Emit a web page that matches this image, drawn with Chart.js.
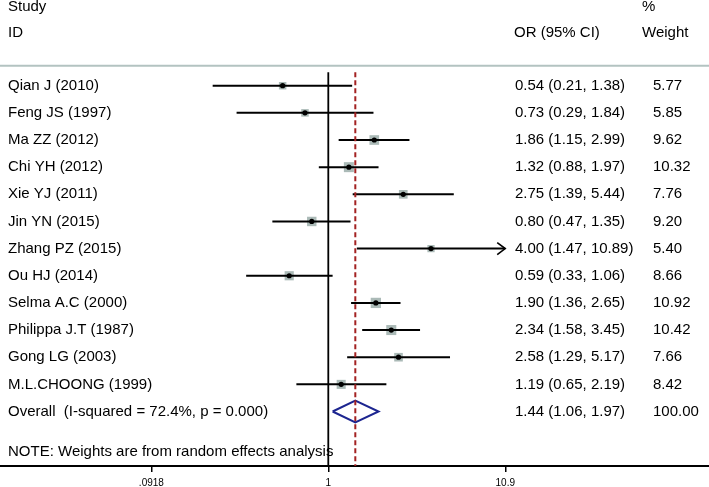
<!DOCTYPE html>
<html>
<head>
<meta charset="utf-8">
<script src="https://cdn.jsdelivr.net/npm/chart.js@4.4.0/dist/chart.umd.min.js"></script>
<style>
  html, body { margin: 0; padding: 0; background: #fff; }
  #wrap { width: 709px; height: 487px; }
</style>
</head>
<body>
<div id="wrap"><canvas id="forest" width="709" height="487"></canvas></div>
<script>
// study rows, top to bottom
const studies = ['Qian J (2010)', 'Feng JS (1997)', 'Ma ZZ (2012)', 'Chi YH (2012)', 'Xie YJ (2011)',
  'Jin YN (2015)', 'Zhang PZ (2015)', 'Ou HJ (2014)', 'Selma A.C (2000)', 'Philippa J.T (1987)',
  'Gong LG (2003)', 'M.L.CHOONG (1999)'];
const orValues = [0.54, 0.73, 1.86, 1.32, 2.75, 0.80, 4.00, 0.59, 1.90, 2.34, 2.58, 1.19];
const ciLower  = [0.21, 0.29, 1.15, 0.88, 1.39, 0.47, 1.47, 0.33, 1.36, 1.58, 1.29, 0.65];
const ciUpper  = [1.38, 1.84, 2.99, 1.97, 5.44, 1.35, 10.89, 1.06, 2.65, 3.45, 5.17, 2.19];
const weights  = [5.77, 5.85, 9.62, 10.32, 7.76, 9.20, 5.40, 8.66, 10.92, 10.42, 7.66, 8.42];

// pooled estimate: OR, lower, upper, weight
const overallValues = [1.44, 1.06, 1.97, 100.00];
const overallLabel = 'Overall  (I-squared = 72.4%, p = 0.000)';
const noteText = 'NOTE: Weights are from random effects analysis';

const tickValues = [0.0918, 1, 10.9];
const tickLabels = ['.0918', '1', '10.9'];

const lg = v => Math.log10(v);
const fmt = v => v.toFixed(2);

const overallRow = studies.length + 1;
const rowTop = -2.157, rowBottom = 15.007;   // y range of the plot area (row units)
const FONT = '"Liberation Sans", Arial, Helvetica, sans-serif';

// one dataset per confidence interval
const ciSets = studies.map((s, i) => ({
  type: 'scatter',
  data: [{ x: lg(ciLower[i]), y: i + 1 }, { x: lg(ciUpper[i]), y: i + 1 }],
  showLine: true,
  borderColor: '#000',
  borderWidth: 2,
  pointRadius: 0,
  order: 2
}));

const [oOR, oLo, oHi] = overallValues;

const forestText = {
  id: 'forestText',
  afterDatasetsDraw(chart) {
    const { ctx, scales: { x, y } } = chart;
    ctx.save();
    ctx.fillStyle = '#000';
    ctx.textBaseline = 'middle';
    ctx.font = '15px ' + FONT;

    // headers
    ctx.fillText('Study', 8, 7);
    ctx.fillText('ID', 8, 33);
    ctx.fillText('OR (95% CI)', 514, 33);
    ctx.fillText('%', 642, 7);
    ctx.fillText('Weight', 642, 33);

    // header rule
    ctx.strokeStyle = '#b3c3c1';
    ctx.lineWidth = 2;
    ctx.beginPath();
    ctx.moveTo(0, 65.7);
    ctx.lineTo(709, 65.7);
    ctx.stroke();

    studies.forEach((s, i) => {
      const py = y.getPixelForValue(i + 1);
      ctx.fillText(s, 8, py);
      ctx.fillText(`${fmt(orValues[i])} (${fmt(ciLower[i])}, ${fmt(ciUpper[i])})`, 515, py);
      ctx.fillText(fmt(weights[i]), 653, py);
    });

    const oy = y.getPixelForValue(overallRow);
    ctx.fillText(overallLabel, 8, oy);
    ctx.fillText(`${fmt(oOR)} (${fmt(oLo)}, ${fmt(oHi)})`, 515, oy);
    ctx.fillText(fmt(overallValues[3]), 653, oy);

    ctx.fillText(noteText, 8, y.getPixelForValue(overallRow + 1.5));

    // arrow heads where the interval runs to the axis limit
    ctx.strokeStyle = '#000';
    ctx.lineWidth = 1.6;
    ciUpper.forEach((hi, i) => {
      if (hi < 10.85) return;
      const px = x.getPixelForValue(lg(hi));
      const py = y.getPixelForValue(i + 1);
      ctx.beginPath();
      ctx.moveTo(px - 8, py - 6);
      ctx.lineTo(px, py);
      ctx.lineTo(px - 8, py + 6);
      ctx.stroke();
    });
    ctx.restore();
  }
};

new Chart(document.getElementById('forest'), {
  type: 'scatter',
  data: {
    datasets: [
      // null line at OR = 1
      {
        data: [{ x: 0, y: 0.5 }, { x: 0, y: rowBottom }],
        showLine: true, borderColor: '#000', borderWidth: 1.8, pointRadius: 0, order: 5
      },
      // pooled estimate line
      {
        data: [{ x: lg(oOR), y: 0.5 }, { x: lg(oOR), y: rowBottom }],
        showLine: true, borderColor: '#a32222', borderWidth: 2, borderDash: [5, 3], pointRadius: 0, order: 0
      },
      // weight boxes
      {
        data: orValues.map((v, i) => ({ x: lg(v), y: i + 1 })),
        pointStyle: 'rect',
        pointRadius: weights.map(w => 2.2 * Math.sqrt(w)),
        backgroundColor: '#abbab7',
        borderWidth: 0,
        order: 3
      },
      ...ciSets,
      // point estimates
      {
        data: orValues.map((v, i) => ({ x: lg(v), y: i + 1 })),
        pointStyle: 'circle',
        pointRadius: 2.6,
        backgroundColor: '#000',
        borderWidth: 0,
        order: 1
      },
      // overall diamond
      {
        data: [
          { x: lg(oLo), y: overallRow },
          { x: lg(oOR), y: overallRow - 0.4 },
          { x: lg(oHi), y: overallRow },
          { x: lg(oOR), y: overallRow + 0.4 },
          { x: lg(oLo), y: overallRow }
        ],
        showLine: true, borderColor: '#1c2590', borderWidth: 2, pointRadius: 0, order: 1
      }
    ]
  },
  options: {
    responsive: false,
    animation: false,
    devicePixelRatio: 1,
    layout: { padding: 0, autoPadding: false },
    plugins: { legend: { display: false }, tooltip: { enabled: false } },
    scales: {
      x: {
        type: 'linear',
        min: -1.9244,
        max: 2.2316,
        afterBuildTicks: s => { s.ticks = tickValues.map(v => ({ value: lg(v) })); },
        afterFit: s => { s.height = 21; s.paddingLeft = 0; s.paddingRight = 0; },
        ticks: {
          callback: (v, i) => tickLabels[i],
          color: '#000',
          font: { family: FONT, size: 10 },
          padding: 5,
          maxRotation: 0,
          autoSkip: false
        },
        grid: { drawOnChartArea: false, drawTicks: true, tickLength: 6, color: '#000', lineWidth: 1.5 },
        border: { display: true, color: '#000', width: 2 }
      },
      y: {
        type: 'linear',
        display: false,
        reverse: true,
        min: rowTop,
        max: rowBottom
      }
    }
  },
  plugins: [forestText]
});
</script>
</body>
</html>
